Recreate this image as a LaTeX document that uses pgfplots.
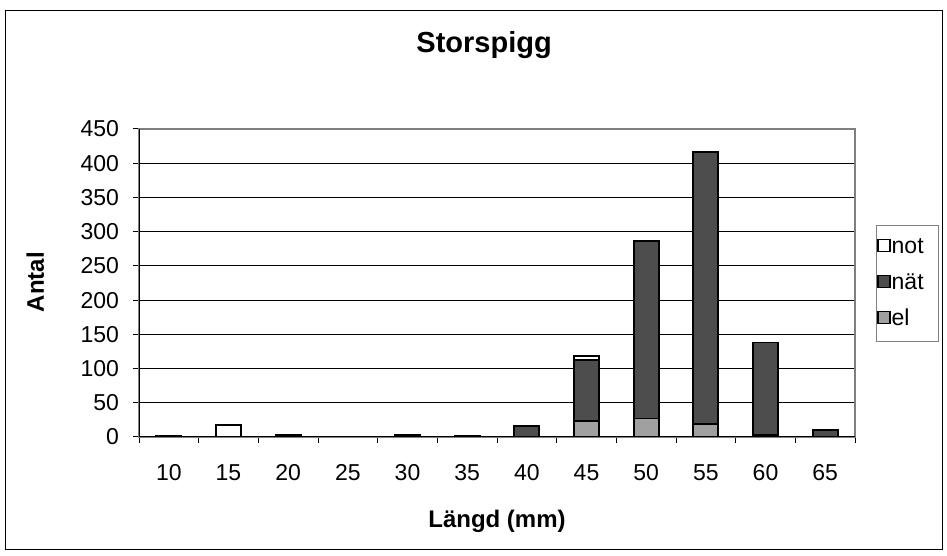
\documentclass[border=0pt]{standalone}
\usepackage{pgfplots}
\pgfplotsset{compat=1.18}
\usepackage{fontspec}
\setmainfont{Liberation Sans}

\definecolor{barNot}{HTML}{FFFFFF}
\definecolor{barNat}{HTML}{4D4D4D}
\definecolor{barEl}{HTML}{A0A0A0}

\newcommand{\entry}[1]{\makebox[45pt][l]{#1}}

\begin{document}
\begin{tikzpicture}[x=1pt,y=1pt]
\useasboundingbox (0,0) rectangle (947,556);
\draw[line width=1pt] (5,6) rectangle (942,545);
\begin{axis}[
  at={(139pt,119pt)}, anchor=south west,
  scale only axis, width=716pt, height=308pt,
  ybar stacked, bar width=25pt,
  xmin=-0.5, xmax=11.5, ymin=0, ymax=450,
  xtick={0,...,11},
  xticklabels={10,15,20,25,30,35,40,45,50,55,60,65},
  minor xtick={-0.5,0.5,...,11.5},
  major x tick style={draw=none},
  ytick={0,50,...,450},
  tick align=outside, major tick length=6pt, minor tick length=6pt,
  xtick pos=bottom, ytick pos=left,
  ymajorgrids, grid style={black, line width=0.8pt},
  tick style={black, line width=1pt},
  axis line style={draw=gray, line width=1.5pt},
  ticklabel style={font=\fontsize{23}{27}\selectfont},
  xticklabel style={yshift=-18pt},
  yticklabel style={xshift=-10.5pt},
  /pgf/number format/assume math mode=true,
  xlabel={Längd (mm)}, ylabel={Antal},
  label style={font=\bfseries\fontsize{24}{28}\selectfont},
  xlabel style={at={(axis description cs:0.5,-0.273)}, anchor=center},
  ylabel style={at={(axis description cs:-0.145,0.503)}, anchor=center, rotate=0},
  title={Storspigg},
  title style={font=\bfseries\fontsize{29}{34}\selectfont, at={(axis description cs:0.482,1.2305)}, anchor=base},
  legend style={at={(axis description cs:1.0293,0.498)}, anchor=west,
    draw=gray, line width=0.8pt, font=\fontsize{23}{27}\selectfont,
    inner xsep=1pt, inner ysep=10pt, row sep=12pt,
    nodes={inner sep=1pt, text height=17pt, text depth=5pt}},
  legend cell align=left,
  reverse legend,
  legend image code/.code={\draw[#1, draw=black, line width=1.3pt] (0pt,-4pt) rectangle (12pt,8pt);},
  every axis plot/.append style={draw=black, line width=1.8pt},
]
\addplot[fill=barEl] coordinates {(0,0) (1,0) (2,0) (3,0) (4,0) (5,0) (6,0) (7,23) (8,27) (9,19) (10,3) (11,0)};
\addplot[fill=barNat] coordinates {(0,1) (1,0) (2,3) (3,0) (4,3) (5,1) (6,16) (7,90) (8,259) (9,397) (10,135) (11,10)};
\addplot[fill=barNot] coordinates {(0,0) (1,18) (2,0) (3,0) (4,0) (5,0) (6,0) (7,5) (8,0) (9,0) (10,0) (11,0)};
\legend{\entry{el},\entry{nät},\entry{not}}
% black axis lines on the left and bottom
\draw[black, line width=1pt] (rel axis cs:0,0) -- (rel axis cs:0,1);
\draw[black, line width=1pt] (rel axis cs:0,0) -- (rel axis cs:1,0);
\end{axis}
\end{tikzpicture}
\end{document}
